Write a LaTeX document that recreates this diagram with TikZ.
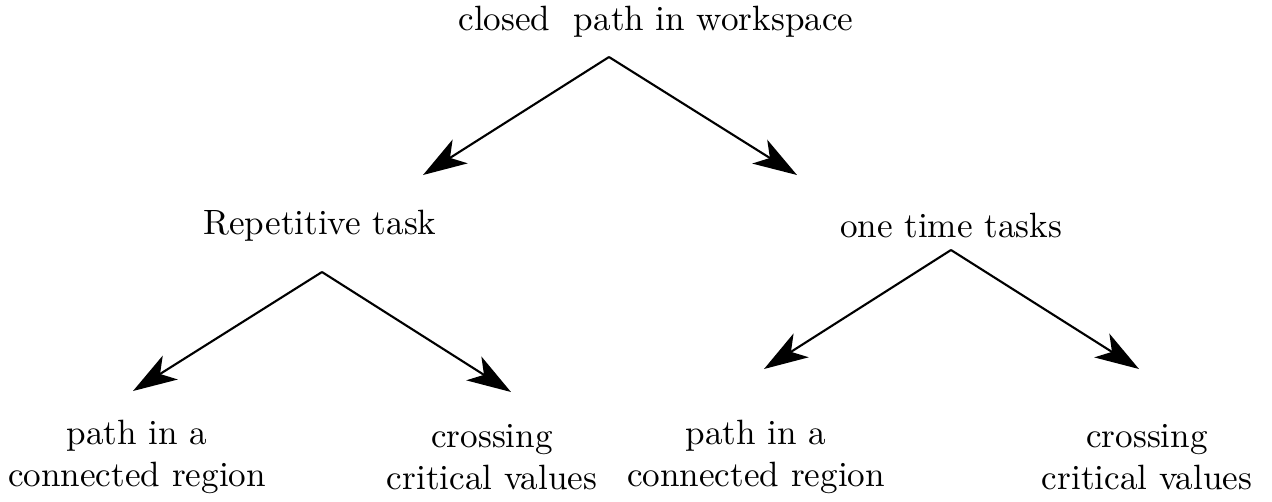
\documentclass[tikz,border=0pt]{standalone}
\usepackage{tikz}
\usetikzlibrary{arrows.meta}

\begin{document}
\begin{tikzpicture}[>={Stealth[length=12.5pt, width=8pt, inset=3.4pt]},
    label/.style={align=center, inner sep=0pt},
    branch/.style={->, line width=0.6pt}]
  \useasboundingbox (0,0) rectangle (12.72,5.01);
  \node[label] (root)       at (6.56,4.79)  {closed\ \ path in workspace};
  \node[label] (rep)        at (3.20,2.75)  {Repetitive task};
  \node[label] (once)       at (9.51,2.76)  {one time tasks};
  \node[label] (rep-path)   at (1.37,0.44)  {path in a\\connected region};
  \node[label] (rep-cross)  at (4.92,0.44)  {crossing\\critical values};
  \node[label] (once-path)  at (7.56,0.44)  {path in a\\connected region};
  \node[label] (once-cross) at (11.47,0.44) {crossing\\critical values};
  % branch points and arrow tips
  \coordinate (root-fork) at (6.09,4.44);
  \coordinate (rep-tip)   at (4.23,3.26);
  \coordinate (once-tip)  at (7.97,3.26);
  \coordinate (rep-fork)  at (3.22,2.29);
  \coordinate (rp-tip)    at (1.33,1.10);
  \coordinate (rc-tip)    at (5.11,1.09);
  \coordinate (once-fork) at (9.51,2.51);
  \coordinate (op-tip)    at (7.64,1.32);
  \coordinate (oc-tip)    at (11.39,1.32);
  \draw[branch] (root-fork) -- (rep-tip);
  \draw[branch] (root-fork) -- (once-tip);
  \draw[branch] (rep-fork)  -- (rp-tip);
  \draw[branch] (rep-fork)  -- (rc-tip);
  \draw[branch] (once-fork) -- (op-tip);
  \draw[branch] (once-fork) -- (oc-tip);
\end{tikzpicture}
\end{document}
